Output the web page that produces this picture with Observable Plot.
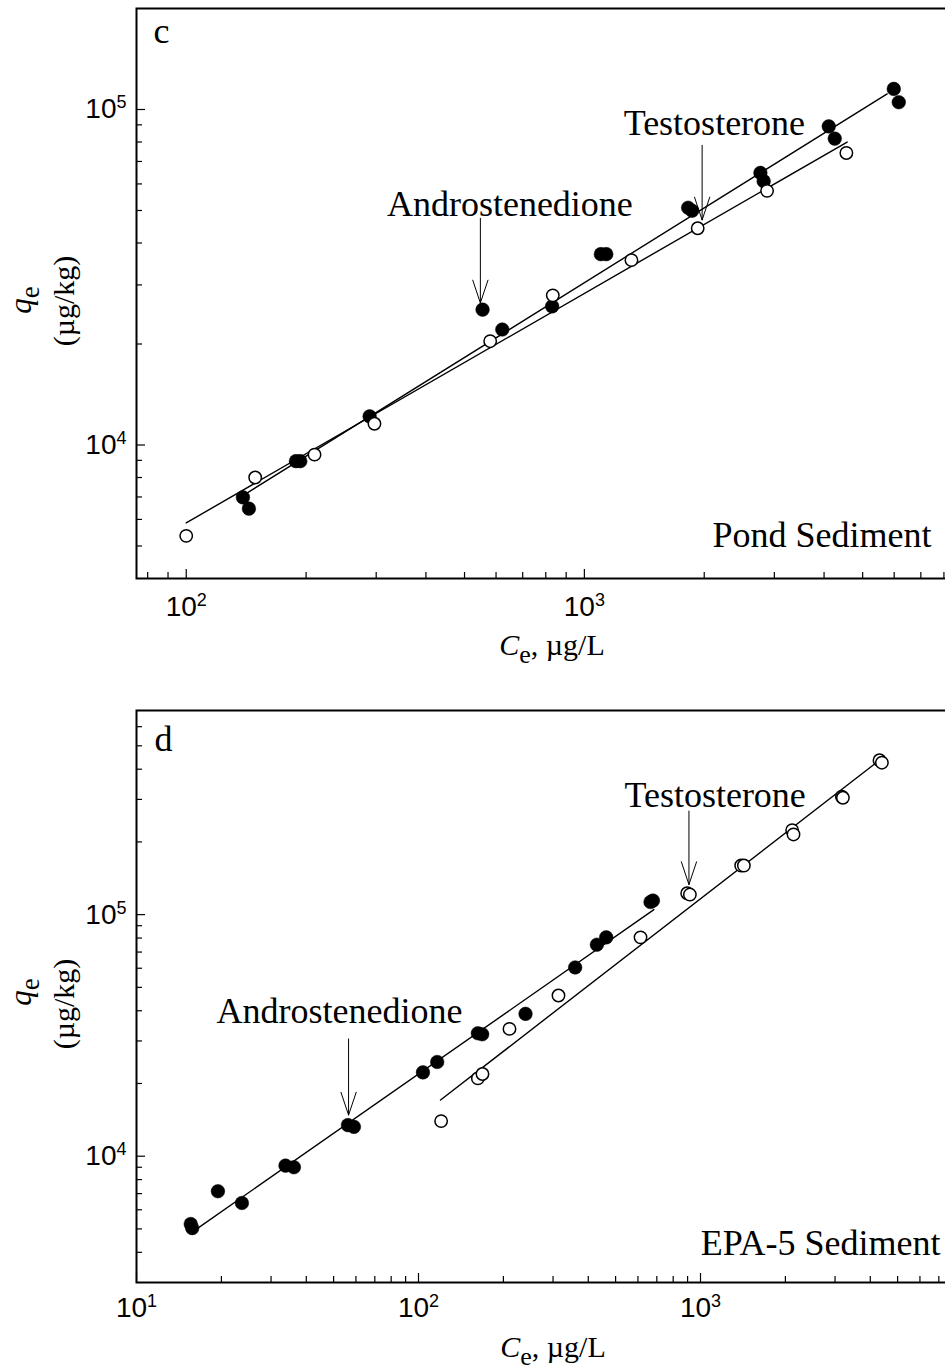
<!DOCTYPE html>
<html>
<head>
<meta charset="utf-8">
<script src="https://cdn.jsdelivr.net/npm/d3@7"></script>
<script src="https://cdn.jsdelivr.net/npm/@observablehq/plot@0.6"></script>
<style>
  html, body { margin: 0; padding: 0; background: #fff; overflow: hidden; }
  #wrap { width: 945px; height: 1370px; overflow: hidden; position: relative; background: #fff; }
  #wrap svg { display: block; max-width: none !important; }
</style>
</head>
<body>
<div id="wrap"></div>
<script>
// ---------------- Panel c : Pond Sediment ----------------
const pondAndroCe = [138.8, 143.7, 188.6, 193.4, 288.8, 555, 622, 830, 1100, 1135, 1822, 1865, 2768, 2821, 4110, 4255, 5986, 6162];
const pondAndroQe = [6980, 6460, 8950, 8950, 12170, 25320, 22090, 25900, 37050, 37050, 50950, 49910, 64710, 61150, 89040, 81880, 115200, 105100];
const pondTestoCe = [100, 149, 210, 297, 580, 833, 1313, 1926, 2877, 4551];
const pondTestoQe = [5360, 8000, 9360, 11570, 20390, 27930, 35560, 44260, 57220, 74200];
// fitted isotherm lines (end points)
const pondAndroFitCe = [138.8, 5762];
const pondAndroFitQe = [7067, 111300];
const pondTestoFitCe = [100, 4571];
const pondTestoFitQe = [5861, 79980];
// annotations
const pondArrowCe = [548, 1976];
const pondArrowQeFrom = [47390, 78200];
const pondArrowQeTo = [26510, 46840];
const pondLabelText = ["Androstenedione", "Testosterone"];
const pondLabelCe = [650, 2121];
const pondLabelQe = [48140, 83740];
// axes
const pondXDomain = [75, 10000];
const pondYDomain = [4000, 200000];
const pondXMajor = [100, 1000];
const pondXMinor = [80, 90, 200, 300, 400, 500, 600, 700, 800, 900, 2000, 3000, 4000, 5000, 6000, 7000, 8000, 9000];
const pondYMajor = [10000, 100000];
const pondYMinor = [5000, 6000, 7000, 8000, 9000, 20000, 30000, 40000, 50000, 60000, 70000, 80000, 90000];

// ---------------- Panel d : EPA-5 Sediment ----------------
const epaAndroCe = [15.57, 15.76, 19.44, 23.65, 33.76, 36.15, 56.19, 59.02, 103.7, 116.5, 162.4, 168.2, 239.6, 359.4, 429.1, 463.1, 664.8, 678];
const epaAndroQe = [5240, 5040, 7160, 6400, 9140, 9000, 13450, 13230, 22230, 24550, 32270, 31960, 38840, 60440, 75090, 80520, 112800, 114300];
const epaTestoCe = [120.3, 162.4, 168.6, 210.2, 313.6, 612.8, 897, 917, 1394, 1425, 2114, 2137, 3172, 3199, 4313, 4398];
const epaTestoQe = [13970, 20990, 21890, 33650, 46260, 80520, 122600, 121100, 159700, 159700, 223800, 214800, 307600, 304700, 435500, 425600];
const epaAndroFitCe = [16.51, 683.6];
const epaAndroFitQe = [5040, 104900];
const epaTestoFitCe = [119.7, 4198];
const epaTestoFitQe = [17080, 425600];
const epaArrowCe = [56.5, 910];
const epaArrowQeFrom = [30590, 268300];
const epaArrowQeTo = [14800, 133200];
const epaLabelText = ["Androstenedione", "Testosterone"];
const epaLabelCe = [52.5, 1127];
const epaLabelQe = [35500, 278800];
const epaXDomain = [10, 10000];
const epaYDomain = [3000, 700000];
const epaXMajor = [10, 100, 1000];
const epaXMinor = [20, 30, 40, 50, 60, 70, 80, 90, 200, 300, 400, 500, 600, 700, 800, 900, 2000, 3000, 4000, 5000, 6000, 7000, 8000, 9000];
const epaYMajor = [10000, 100000];
const epaYMinor = [4000, 5000, 6000, 7000, 8000, 9000, 20000, 30000, 40000, 50000, 60000, 70000, 80000, 90000, 200000, 300000, 400000, 500000, 600000];

// ---------------- helpers ----------------
const zip = (xs, ys) => xs.map((x, i) => ({ce: x, qe: ys[i]}));
const SERIF = "Liberation Serif, Times New Roman, serif";
const SANS = "Liberation Sans, Arial, sans-serif";

function panel(o) {
  const W = 985, mL = 136, mR = 3;
  const innerW = W - mL - mR;
  const innerH = o.height - o.marginTop - o.marginBottom;
  const arrows = o.arrowCe.map((x, i) => ({x, y1: o.arrowFrom[i], y2: o.arrowTo[i]}));
  const labels = o.labelText.map((t, i) => ({t, x: o.labelCe[i], y: o.labelQe[i]}));
  const svg = Plot.plot({
    width: W, height: o.height,
    marginLeft: mL, marginRight: mR, marginTop: o.marginTop, marginBottom: o.marginBottom,
    x: {type: "log", domain: o.xDomain, axis: null},
    y: {type: "log", domain: o.yDomain, axis: null},
    style: {fontFamily: SERIF, color: "black", background: "white", maxWidth: "none", overflow: "visible"},
    marks: [
      Plot.ruleX(o.xMinor, {stroke: "black", strokeWidth: 1.2, insetTop: innerH - 6}),
      Plot.ruleX(o.xMajor, {stroke: "black", strokeWidth: 1.2, insetTop: innerH - 9}),
      Plot.ruleY(o.yMinor, {stroke: "black", strokeWidth: 1.2, insetRight: innerW - 6}),
      Plot.ruleY(o.yMajor, {stroke: "black", strokeWidth: 1.2, insetRight: innerW - 9}),
      Plot.axisX({ticks: o.xMajor, tickSize: 0, tickPadding: o.xPad, label: null,
        tickFormat: d => "10^" + Math.round(Math.log10(d)), fontSize: 28, fontFamily: SANS}),
      Plot.axisY({ticks: o.yMajor, tickSize: 0, tickPadding: 10, label: null,
        tickFormat: d => "10^" + Math.round(Math.log10(d)), fontSize: 28, fontFamily: SANS}),
      Plot.line(zip(o.androFitCe, o.androFitQe), {x: "ce", y: "qe", stroke: "black", strokeWidth: 1.4}),
      Plot.line(zip(o.testoFitCe, o.testoFitQe), {x: "ce", y: "qe", stroke: "black", strokeWidth: 1.4}),
      Plot.dot(zip(o.androCe, o.androQe), {x: "ce", y: "qe", r: 6.8, fill: "black", stroke: "black", strokeWidth: 0.5}),
      Plot.dot(zip(o.testoCe, o.testoQe), {x: "ce", y: "qe", r: 6.2, fill: "white", stroke: "black", strokeWidth: 1.5}),
      Plot.arrow(arrows, {x1: "x", x2: "x", y1: "y1", y2: "y2", stroke: "black", strokeWidth: 1, headLength: 36, headAngle: 37}),
      Plot.text(labels, {x: "x", y: "y", text: "t", fontSize: 36, fontFamily: SERIF, lineAnchor: "bottom", textAnchor: "middle", fill: "black"}),
      Plot.text([o.letter], {text: d => d, frameAnchor: "top-left", textAnchor: "start", lineAnchor: "bottom",
        dx: o.letterDx, dy: o.letterDy, fontSize: 36, fontFamily: SERIF, fill: "black"}),
      Plot.text([o.sediment], {text: d => d, frameAnchor: "bottom-right", textAnchor: "end", lineAnchor: "bottom",
        dx: o.sedDx, dy: o.sedDy, fontSize: 36, fontFamily: SERIF, fill: "black"}),
      Plot.frame({stroke: "black", strokeWidth: 2})
    ]
  });
  svg.style.maxWidth = "none";
  // tick labels: sans font, superscript exponents
  d3.select(svg).selectAll('g[aria-label$="tick label"]')
    .attr("font-size", 28).attr("font-family", SANS);
  d3.select(svg).selectAll('g[aria-label$="tick label"] text').each(function () {
    const parts = this.textContent.split("^");
    if (parts.length < 2) return;
    const t = d3.select(this).attr("font-size", 28).attr("font-family", SANS);
    t.text(null);
    t.append("tspan").text(parts[0]);
    t.append("tspan").attr("font-size", 18).attr("dy", -10).text(parts[1]);
  });
  const s = d3.select(svg);
  // x axis label: C_e, µg/L
  const xl = s.append("text").attr("x", o.xLabelX).attr("y", o.xLabelY)
    .attr("text-anchor", "middle").attr("font-family", SERIF).attr("font-size", 30).attr("fill", "black");
  xl.append("tspan").attr("font-style", "italic").text("C");
  xl.append("tspan").attr("font-size", 26).attr("dy", 8).text("e");
  xl.append("tspan").attr("dy", -8).text(", µg/L");
  // y axis label: q_e (µg/kg)
  const yl = s.append("text").attr("transform", `translate(${o.qX},${o.qY}) rotate(-90)`)
    .attr("text-anchor", "middle").attr("font-family", SERIF).attr("font-size", 31).attr("fill", "black");
  yl.append("tspan").attr("font-style", "italic").text("q");
  yl.append("tspan").attr("font-size", 27).attr("dy", 8).text("e");
  s.append("text").attr("transform", `translate(${o.uX},${o.uY}) rotate(-90)`)
    .attr("text-anchor", "middle").attr("font-family", SERIF).attr("font-size", 30).attr("fill", "black")
    .text("(µg/kg)");
  return svg;
}

const wrap = document.getElementById("wrap");

wrap.append(panel({
  height: 668, marginTop: 8, marginBottom: 90, xPad: 18,
  xDomain: pondXDomain, yDomain: pondYDomain,
  xMajor: pondXMajor, xMinor: pondXMinor, yMajor: pondYMajor, yMinor: pondYMinor,
  androCe: pondAndroCe, androQe: pondAndroQe, testoCe: pondTestoCe, testoQe: pondTestoQe,
  androFitCe: pondAndroFitCe, androFitQe: pondAndroFitQe, testoFitCe: pondTestoFitCe, testoFitQe: pondTestoFitQe,
  arrowCe: pondArrowCe, arrowFrom: pondArrowQeFrom, arrowTo: pondArrowQeTo,
  labelText: pondLabelText, labelCe: pondLabelCe, labelQe: pondLabelQe,
  letter: "c", letterDx: 17, letterDy: 34,
  sediment: "Pond Sediment", sedDx: -51, sedDy: -32,
  xLabelX: 552, xLabelY: 655,
  qX: 31, qY: 300, uX: 74, uY: 301
}));

wrap.append(panel({
  height: 702, marginTop: 42, marginBottom: 88, xPad: 15,
  xDomain: epaXDomain, yDomain: epaYDomain,
  xMajor: epaXMajor, xMinor: epaXMinor, yMajor: epaYMajor, yMinor: epaYMinor,
  androCe: epaAndroCe, androQe: epaAndroQe, testoCe: epaTestoCe, testoQe: epaTestoQe,
  androFitCe: epaAndroFitCe, androFitQe: epaAndroFitQe, testoFitCe: epaTestoFitCe, testoFitQe: epaTestoFitQe,
  arrowCe: epaArrowCe, arrowFrom: epaArrowQeFrom, arrowTo: epaArrowQeTo,
  labelText: epaLabelText, labelCe: epaLabelCe, labelQe: epaLabelQe,
  letter: "d", letterDx: 18, letterDy: 40,
  sediment: "EPA-5 Sediment", sedDx: -42, sedDy: -28,
  xLabelX: 553, xLabelY: 689,
  qX: 31, qY: 324, uX: 74, uY: 336
}));
</script>
</body>
</html>
